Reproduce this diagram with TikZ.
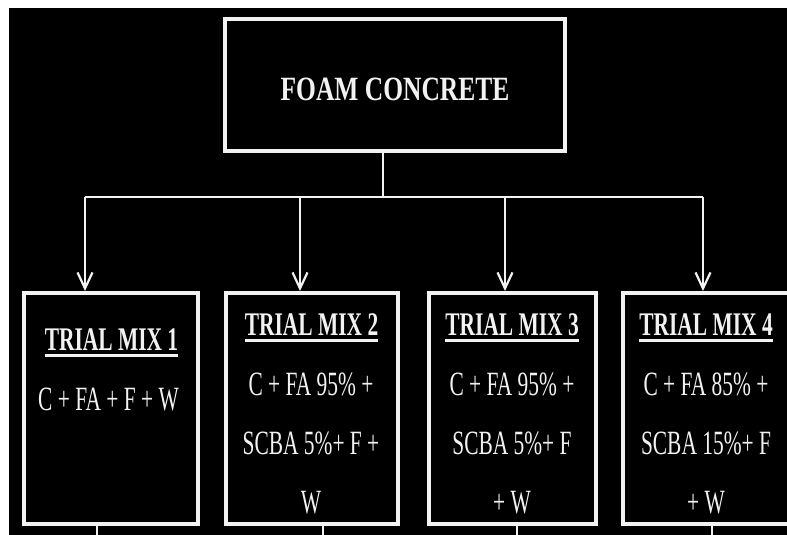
\documentclass[tikz,border=0pt]{standalone}
\usepackage{fontspec}
\setmainfont{Liberation Serif}
\newfontfamily\titlefont{Liberation Serif}[FakeStretch=0.75]
\newfontfamily\headfont{Liberation Serif}[FakeStretch=0.65]
\newfontfamily\mixfont{Liberation Serif}[FakeStretch=0.63]
\usetikzlibrary{arrows.meta, positioning}
\definecolor{fcInk}{HTML}{F2F2F2}
\tikzset{
  boxline/.style  = {draw=fcInk, line width=4pt, fill=black, inner sep=0pt},
  topbox/.style   = {boxline, minimum width=340pt, minimum height=132pt},
  mixbox/.style   = {boxline, minimum width=#1, minimum height=231pt},
  titletxt/.style = {fcInk, inner sep=0pt, anchor=base,
                     font=\titlefont\bfseries\fontsize{34}{40}\selectfont},
  headtxt/.style  = {fcInk, inner sep=0pt, anchor=base,
                     font=\headfont\bfseries\fontsize{33}{40}\selectfont},
  bodytxt/.style  = {fcInk, inner sep=0pt, anchor=base, align=center,
                     font=\mixfont\fontsize{34}{59}\selectfont},
  link/.style     = {fcInk, line width=2.2pt},
  flow/.style     = {link, -{Straight Barb[length=16pt, width=15pt]}},
  ulline/.style   = {fcInk, line width=3.5pt},
}

\begin{document}
\begin{tikzpicture}[x=1pt, y=-1pt]
  \useasboundingbox (0,0) rectangle (787,535);
  \clip (0,0) rectangle (787,535);
  \fill[white] (0,0) rectangle (787,535);
  \fill[black] (9,8) rectangle (787,535);

  % boxes
  \node[topbox] (foam) at (395,85) {};
  \node[mixbox=174pt] (mix1) at (111,408.5) {};
  \node[mixbox=172pt] (mix2) at (312,408.5) {};
  \node[mixbox=167pt] (mix3) at (512.5,408.5) {};
  \node[mixbox=166pt] (mix4) at (706,408.5) {};

  % texts (base = last line)
  \node[titletxt] (foamt) at (395,100) {FOAM CONCRETE};

  \node[headtxt] (mix1h) at (111.5,350) {TRIAL MIX 1};
  \node[headtxt] (mix2h) at (311.5,335) {TRIAL MIX 2};
  \node[headtxt] (mix3h) at (512,335)   {TRIAL MIX 3};
  \node[headtxt] (mix4h) at (706,335)   {TRIAL MIX 4};

  \node[bodytxt] (mix1b) at (108.5,410) {C + FA + F + W};
  \node[bodytxt] (mix2b) at (311,513) {C + FA 95\% +\\SCBA 5\%+ F +\\W};
  \node[bodytxt] (mix3b) at (512,513) {C + FA 95\% +\\SCBA 5\%+ F\\+ W};
  \node[bodytxt] (mix4b) at (706,513) {C + FA 85\% +\\SCBA 15\%+ F\\+ W};

  \foreach \m in {mix1h,mix2h,mix3h,mix4h}
    \draw[ulline] ([yshift=-5.5pt]\m.base west) -- ([yshift=-5.5pt]\m.base east);

  % connectors
  \coordinate (split) at (383,197);
  \coordinate (d1) at (85,197);
  \coordinate (d2) at (300,197);
  \coordinate (d3) at (505,197);
  \coordinate (d4) at (703,197);

  \draw[link] (foam.south -| split) -- (split);
  \draw[link] (d1) -- (d4);
  \draw[flow] (d1) -- (d1 |- mix1.north);
  \draw[flow] (d2) -- (d2 |- mix2.north);
  \draw[flow] (d3) -- (d3 |- mix3.north);
  \draw[flow] (d4) -- (d4 |- mix4.north);

  % stubs to the next level
  \coordinate (s1) at (97,540);
  \coordinate (s2) at (323,540);
  \coordinate (s3) at (517,540);
  \coordinate (s4) at (712,540);
  \foreach \i in {1,2,3,4}
    \draw[link] (mix\i.south -| s\i) -- (s\i);
\end{tikzpicture}
\end{document}
